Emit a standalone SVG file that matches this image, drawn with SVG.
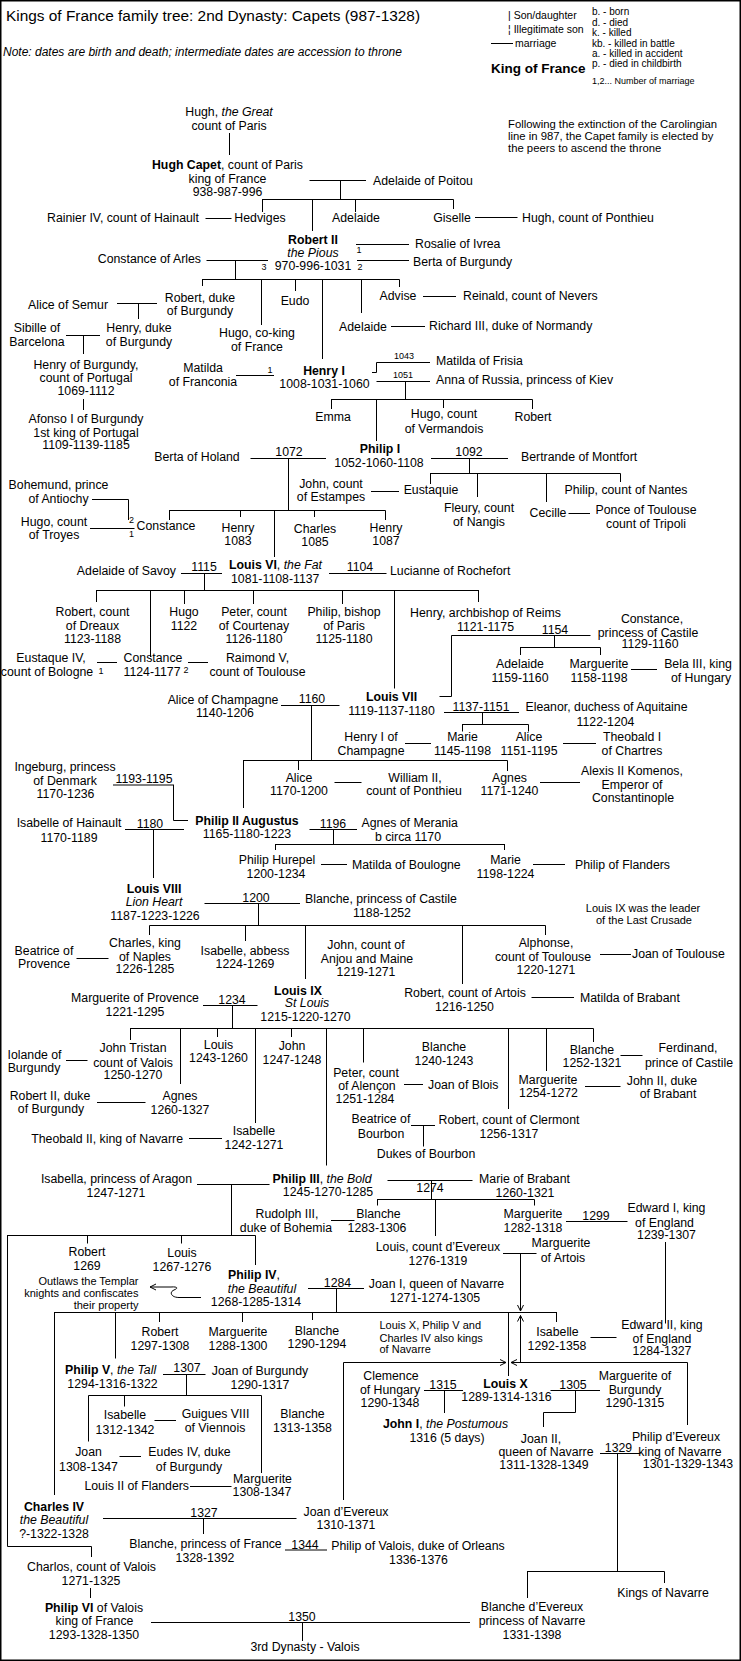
<svg xmlns="http://www.w3.org/2000/svg" width="741" height="1661" viewBox="0 0 741 1661">
<style>
text{font-family:"Liberation Sans",Arial,sans-serif;font-size:12.3px;fill:#000;text-anchor:middle}
.l{text-anchor:start}
.e{text-anchor:end}
.s{font-size:11px}
.x{font-size:9px}
.b{font-weight:bold}
.i{font-style:italic}
.c path{stroke:#000;stroke-width:1;fill:none}
</style>
<defs>
<marker id="ah" markerWidth="8" markerHeight="8" refX="7" refY="4" orient="auto" markerUnits="userSpaceOnUse"><path d="M1,1 L7,4 L1,7" fill="none" stroke="#000" stroke-width="1"/></marker>
</defs>
<rect x="0" y="0" width="741" height="1661" fill="#fff"/>
<rect x="0.75" y="0.75" width="739.5" height="1659.5" fill="none" stroke="#000" stroke-width="1.5"/>

<g id="header">
<text class="l" x="6" y="21" style="font-size:15.4px">Kings of France family tree: 2nd Dynasty: Capets (987-1328)</text>
<text class="l i" x="3" y="56" style="font-size:12px">Note: dates are birth and death; intermediate dates are accession to throne</text>
</g>
<g id="legend">
<text class="l" x="508" y="19" style="font-size:10.5px">| Son/daughter</text>
<text class="l" x="508" y="33" style="font-size:10.5px">¦ Illegitimate son</text>
<path d="M491,43.5H513" stroke="#000" stroke-width="1"/>
<text class="l" x="515" y="47" style="font-size:10.5px">marriage</text>
<text class="l b" x="491" y="73" style="font-size:13.5px">King of France</text>
<text class="l" x="592" y="15" style="font-size:10px">b. - born</text>
<text class="l" x="592" y="26" style="font-size:10px">d. - died</text>
<text class="l" x="592" y="36" style="font-size:10px">k. - killed</text>
<text class="l" x="592" y="47" style="font-size:10px">kb. - killed in battle</text>
<text class="l" x="592" y="57" style="font-size:10px">a. - killed in accident</text>
<text class="l" x="592" y="67" style="font-size:10px">p. - died in childbirth</text>
<text class="l" x="592" y="84" style="font-size:9px">1,2... Number of marriage</text>
</g>
<g id="note-election">
<text class="l" x="508" y="128" style="font-size:11.3px">Following the extinction of the Carolingian</text>
<text class="l" x="508" y="140" style="font-size:11.3px">line in 987, the Capet family is elected by</text>
<text class="l" x="508" y="152" style="font-size:11.3px">the peers to ascend the throne</text>
</g>

<g class="c" id="connectors">
<path d="M229.5,133V155 M309.5,180.5H366 M340.5,180.5V199.5 M262,199.5H453.5 M262.5,199.5V212 M312.5,199.5V231 M355.5,199.5V212 M453.5,199.5V209 M205.5,218.5H231.5 M475,217.5H517.5"/>
<path d="M356,244.5H409 M357,260.5H409 M206.5,260.5H268 M235.5,260.5V279.5 M202,279.5H399.5 M202.5,279.5V286 M261.5,279.5V325 M295.5,279.5V291 M322.5,279.5V359 M361.5,279.5V313 M399.5,279.5V287 M423,296.5H456 M391,326.5H425 M117,303.5H157 M138.5,303.5V319 M66,335.5H100 M83.5,335.5V354 M83.5,399V410 M236,375.5H274"/>
<path d="M372,372.5H376.5V362.5H430 M376.5,381.5H430 M405.5,381.5V399.5 M331,399.5H532.5 M331.5,399.5V409 M376.5,399.5V441 M443.5,399.5V408 M532.5,399.5V409"/>
<path d="M250.5,458.5H326 M288.5,458.5V510.5 M431,458.5H508 M469.5,458.5V473.5 M430,473.5H620.5 M430.5,473.5V484 M477.5,473.5V497 M546.5,473.5V502 M620.5,473.5V482 M371,491.5H399 M568.5,513.5H590 M92,499.5H128.5V520 M90,528.5H134.5 M169,510.5H385.5 M169.5,510.5V520 M240.5,510.5V517 M274.5,510.5V557 M314.5,510.5V517 M385.5,510.5V520"/>
<path d="M181,573.5H222 M329,573.5H386.5 M204.5,573.5V590.5 M96,590.5H479 M96.5,590.5V602 M150.5,590.5V657 M184.5,590.5V604 M253.5,590.5V604 M342.5,590.5V604 M394.5,590.5V688.5 M478.5,590.5V602 M97,662.5H117 M188,662.5H208"/>
<path d="M590.5,635.5H451.5V696.5H439.5 M554.5,635.5V647.5 M520,647.5H600.5 M520.5,647.5V655 M600.5,647.5V655 M631,669.5H657"/>
<path d="M281,705.5H339.5 M311.5,705.5V760.5 M444,712.5H519 M482.5,712.5V724.5 M462,724.5H528.5 M462.5,724.5V731.5 M528.5,724.5V731.5 M405,743.5H431 M563,743.5H596 M243,760.5H507.5 M243.5,760.5V808 M298.5,760.5V770 M507.5,760.5V771 M334.5,782.5H361.5 M540,782.5H580"/>
<path d="M113,785H174 M173.5,785V820.5H188 M125,829.5H184 M153.5,829.5V878 M309.5,829.5H357 M333.5,829.5V844.5 M275,844.5H505 M275.5,844.5V850 M504.5,844.5V850 M321,864.5H347 M533,864.5H565"/>
<path d="M204.5,903.5H300 M258.5,903.5V925.5 M149.5,925.5H545.5 M149.5,925.5V935 M245.5,925.5V941 M305.5,925.5V979 M462.5,925.5V984 M545.5,925.5V935 M76.5,958.5H108.5 M600,954.5H631"/>
<path d="M203,1005.5H257.5 M232.5,1005.5V1028.5 M531.5,997.5H574 M130,1028.5H593.5 M130.5,1028.5V1040 M180.5,1028.5V1084 M217.5,1028.5V1037 M255.5,1028.5V1123 M291.5,1028.5V1037 M326.5,1028.5V1165.5 M363.5,1028.5V1062.5 M508.5,1028.5V1109 M546.5,1028.5V1071 M593.5,1028.5V1042 M66,1060.5H87.5 M620.5,1055.5H642.5 M404,1084.5H423 M585,1086.5H620.5 M97,1102.5H145.5 M411,1125.5H435 M423.5,1125.5V1146.5 M189,1138.5H222"/>
<path d="M197,1184.5H269.5 M231.5,1184.5V1235.5 M7,1235.5H255.5 M7.5,1235.5V1546.5H91.5V1557 M87.5,1235.5V1243.5 M181.5,1235.5V1243.5 M255.5,1235.5V1265 M387.5,1180.5H472.5 M431.5,1180.5V1199.5 M377,1199.5H534.5 M377.5,1199.5V1205.5 M435.5,1199.5V1236 M534.5,1199.5V1205.5 M331,1220.5H354.5 M566,1221.5H627.5 M665.5,1242V1323.5"/>
<path d="M503,1253.5H536.5"/>
<path d="M520.5,1253.5V1311" marker-end="url(#ah)"/>
<path d="M520.5,1362.5V1315.5" marker-end="url(#ah)"/>
<path d="M308,1288.5H364 M336.5,1288.5V1312.5 M54,1312.5H557 M54.5,1312.5V1495 M115.5,1312.5V1358.5 M159.5,1312.5V1322 M242.5,1312.5V1322 M312.5,1312.5V1320 M508.5,1312.5V1376 M556.5,1312.5V1322 M590.5,1337.5H616.5"/>
<path d="M343.5,1500V1362.5H506" marker-end="url(#ah)"/>
<path d="M687.5,1425V1362.5H511" marker-end="url(#ah)"/>
<path d="M201,1297.5H179C171,1297.5 169,1292 174,1290C179,1288 177,1286.5 171,1287H150" marker-end="url(#ah)"/>
<path d="M163,1374.5H205.5 M186.5,1374.5V1395.5 M88.5,1395.5H261.5 M88.5,1395.5V1441.5 M124.5,1395.5V1406.5 M261.5,1395.5V1473 M154.5,1420.5H176 M119.5,1456.5H141 M190,1486.5H231.5"/>
<path d="M424,1390.5H463 M444.5,1390.5V1413 M550.5,1390.5H600 M575.5,1390.5V1412.5H543.5V1427 M600,1453.5H640.5 M617.5,1453.5V1571.5 M527,1571.5H664.5 M527.5,1571.5V1598 M664.5,1571.5V1583"/>
<path d="M103,1518.5H296.5 M203.5,1518.5V1534 M285,1550H327 M90.5,1588V1598 M151,1622.5H470 M302.5,1622.5V1641"/>
</g>

<g id="hugh-great"><text x="229" y="116">Hugh, <tspan class="i">the Great</tspan></text><text x="229" y="130">count of Paris</text></g>
<g id="hugh-capet"><text x="227.5" y="169"><tspan class="b">Hugh Capet</tspan>, count of Paris</text><text x="227.5" y="183">king of France</text><text x="227.5" y="196">938-987-996</text></g>
<g id="adelaide-poitou"><text class="l" x="373" y="185">Adelaide of Poitou</text></g>
<g id="hedviges"><text x="260" y="222">Hedviges</text></g>
<g id="rainier"><text class="e" x="199" y="222">Rainier IV, count of Hainault</text></g>
<g id="adelaide-1"><text x="356" y="222">Adelaide</text></g>
<g id="giselle"><text x="452" y="222">Giselle</text></g>
<g id="hugh-ponthieu"><text class="l" x="522" y="222">Hugh, count of Ponthieu</text></g>
<g id="robert2"><text class="b" x="313" y="244">Robert II</text><text class="i" x="313" y="257">the Pious</text><text x="313" y="270">970-996-1031</text><text class="x" x="264" y="270">3</text><text class="x" x="359" y="253">1</text><text class="x" x="360" y="270">2</text></g>
<g id="rosalie"><text class="l" x="415" y="248">Rosalie of Ivrea</text></g>
<g id="berta-burgundy"><text class="l" x="413" y="266">Berta of Burgundy</text></g>
<g id="constance-arles"><text class="e" x="201" y="263">Constance of Arles</text></g>
<g id="robert-duke"><text x="200" y="302">Robert, duke</text><text x="200" y="315">of Burgundy</text></g>
<g id="alice-semur"><text x="68" y="308.5">Alice of Semur</text></g>
<g id="eudo"><text x="295" y="305">Eudo</text></g>
<g id="advise"><text x="398" y="300">Advise</text></g>
<g id="reinald"><text class="l" x="463" y="300">Reinald, count of Nevers</text></g>
<g id="adelaide-2"><text x="363" y="330.5">Adelaide</text></g>
<g id="richard3"><text class="l" x="429" y="330">Richard III, duke of Normandy</text></g>
<g id="sibille"><text x="37" y="332">Sibille of</text><text x="37" y="345.5">Barcelona</text></g>
<g id="henry-duke"><text x="139" y="332">Henry, duke</text><text x="139" y="345.5">of Burgundy</text></g>
<g id="hugo-coking"><text x="257" y="337">Hugo, co-king</text><text x="257" y="350.5">of France</text></g>
<g id="henry-burgundy"><text x="86" y="368.5">Henry of Burgundy,</text><text x="86" y="381.5">count of Portugal</text><text x="86" y="394.5">1069-1112</text></g>
<g id="matilda-franconia"><text x="203" y="372">Matilda</text><text x="203" y="386">of Franconia</text><text class="x" x="270" y="373">1</text></g>
<g id="henry1"><text class="b" x="324" y="374.5">Henry I</text><text x="324.5" y="387.5">1008-1031-1060</text></g>
<g id="matilda-frisia"><text class="x" x="404" y="359">1043</text><text class="l" x="436" y="364.5">Matilda of Frisia</text></g>
<g id="anna"><text class="x" x="403" y="378">1051</text><text class="l" x="436" y="383.5">Anna of Russia, princess of Kiev</text></g>
<g id="emma"><text x="333" y="421">Emma</text></g>
<g id="hugo-vermandois"><text x="444" y="418">Hugo, count</text><text x="444" y="433">of Vermandois</text></g>
<g id="robert-3"><text x="533" y="421">Robert</text></g>
<g id="afonso"><text x="86" y="423">Afonso I of Burgundy</text><text x="86" y="436.5">1st king of Portugal</text><text x="86" y="449">1109-1139-1185</text></g>
<g id="philip1"><text class="b" x="380" y="452.5">Philip I</text><text x="379" y="467">1052-1060-1108</text></g>
<g id="berta-holand"><text x="197" y="461">Berta of Holand</text><text x="289" y="456">1072</text></g>
<g id="bertrande"><text x="469" y="456">1092</text><text class="l" x="521" y="461">Bertrande of Montfort</text></g>
<g id="eustaquie"><text x="431" y="494">Eustaquie</text></g>
<g id="john-estampes"><text x="331" y="488">John, count</text><text x="331" y="501">of Estampes</text></g>
<g id="philip-nantes"><text x="626" y="494">Philip, count of Nantes</text></g>
<g id="fleury"><text x="479" y="511.5">Fleury, count</text><text x="479" y="525.5">of Nangis</text></g>
<g id="cecille"><text x="548" y="517">Cecille</text></g>
<g id="ponce"><text x="646" y="514">Ponce of Toulouse</text><text x="646" y="527.5">count of Tripoli</text></g>
<g id="bohemund"><text x="58.5" y="489">Bohemund, prince</text><text x="58.5" y="502.5">of Antiochy</text><text class="x l" x="129" y="523">2</text></g>
<g id="hugo-troyes"><text x="54" y="525.5">Hugo, count</text><text x="54" y="539">of Troyes</text><text class="x l" x="129" y="537">1</text></g>
<g id="constance-1"><text x="166" y="529.5">Constance</text></g>
<g id="henry-1083"><text x="238" y="531.5">Henry</text><text x="238" y="545">1083</text></g>
<g id="charles-1085"><text x="315" y="532.5">Charles</text><text x="315" y="546">1085</text></g>
<g id="henry-1087"><text x="386" y="531.5">Henry</text><text x="386" y="545">1087</text></g>
<g id="louis6"><text class="l" x="229" y="569"><tspan class="b">Louis VI</tspan>, <tspan class="i">the Fat</tspan></text><text class="l" x="231" y="583">1081-1108-1137</text></g>
<g id="adelaide-savoy"><text class="e" x="176" y="574.5">Adelaide of Savoy</text><text x="204" y="571">1115</text></g>
<g id="lucianne"><text x="360" y="571">1104</text><text class="l" x="390" y="574.5">Lucianne of Rochefort</text></g>
<g id="robert-dreux"><text x="92.5" y="616">Robert, count</text><text x="92.5" y="629.5">of Dreaux</text><text x="92.5" y="643">1123-1188</text></g>
<g id="hugo-1122"><text x="184" y="616">Hugo</text><text x="184" y="629.5">1122</text></g>
<g id="peter-courtenay"><text x="254" y="616">Peter, count</text><text x="254" y="629.5">of Courtenay</text><text x="254" y="643">1126-1180</text></g>
<g id="philip-bishop"><text x="344" y="616">Philip, bishop</text><text x="344" y="629.5">of Paris</text><text x="344" y="643">1125-1180</text></g>
<g id="henry-archbishop"><text x="485.5" y="617">Henry, archbishop of Reims</text><text x="485.5" y="630.5">1121-1175</text></g>
<g id="constance-castile"><text x="555" y="634">1154</text><text x="652" y="623">Constance,</text><text x="648" y="636.5">princess of Castile</text><text x="650" y="648">1129-1160</text></g>
<g id="adelaide-1159"><text x="520" y="668">Adelaide</text><text x="520" y="681.5">1159-1160</text></g>
<g id="marguerite-1158"><text x="599" y="668">Marguerite</text><text x="599" y="681.5">1158-1198</text></g>
<g id="bela3"><text x="698" y="668">Bela III, king</text><text x="701" y="681.5">of Hungary</text></g>
<g id="eustaque4"><text x="51" y="662">Eustaque IV,</text><text x="47" y="675.5">count of Bologne</text><text class="x" x="101" y="674">1</text></g>
<g id="constance-1124"><text x="153" y="662">Constance</text><text x="152" y="675.5">1124-1177</text><text class="x" x="186" y="673">2</text></g>
<g id="raimond5"><text x="257.5" y="662">Raimond V,</text><text x="257.5" y="675.5">count of Toulouse</text></g>
<g id="louis7"><text class="b" x="391.5" y="700.5">Louis VII</text><text x="391.5" y="715">1119-1137-1180</text></g>
<g id="alice-champagne"><text x="223" y="703.5">Alice of Champagne</text><text x="225" y="717">1140-1206</text><text x="312" y="703">1160</text></g>
<g id="eleanor"><text x="481" y="710.5">1137-1151</text><text class="l" x="525.5" y="711">Eleanor, duchess of Aquitaine</text><text x="605.5" y="726">1122-1204</text></g>
<g id="henry1-champagne"><text x="371" y="741">Henry I of</text><text x="371" y="755">Champagne</text></g>
<g id="marie-1145"><text x="462.5" y="741">Marie</text><text x="462.5" y="755">1145-1198</text></g>
<g id="alice-1151"><text x="529" y="741">Alice</text><text x="529" y="755">1151-1195</text></g>
<g id="theobald1"><text x="632" y="741">Theobald I</text><text x="632" y="755">of Chartres</text></g>
<g id="alice-1170"><text x="299" y="781.5">Alice</text><text x="299" y="795">1170-1200</text></g>
<g id="william2"><text x="415" y="781.5">William II,</text><text x="414" y="795">count of Ponthieu</text></g>
<g id="agnes-1171"><text x="509.5" y="781.5">Agnes</text><text x="509.5" y="795">1171-1240</text></g>
<g id="alexis2"><text x="632" y="775">Alexis II Komenos,</text><text x="632" y="788.5">Emperor of</text><text x="633" y="801.5">Constantinople</text></g>
<g id="ingeburg"><text x="65" y="771">Ingeburg, princess</text><text x="65" y="784.5">of Denmark</text><text x="65.5" y="797.5">1170-1236</text><text x="144" y="783">1193-1195</text></g>
<g id="philip2"><text class="b" x="247" y="824.5">Philip II Augustus</text><text x="247" y="838">1165-1180-1223</text></g>
<g id="isabelle-hainault"><text x="69" y="827">Isabelle of Hainault</text><text x="69" y="841.5">1170-1189</text><text x="150" y="828">1180</text></g>
<g id="agnes-merania"><text x="333" y="828">1196</text><text class="l" x="361.5" y="827">Agnes of Merania</text><text x="408" y="840.5">b circa 1170</text></g>
<g id="philip-hurepel"><text x="277" y="864">Philip Hurepel</text><text x="276" y="877.5">1200-1234</text></g>
<g id="matilda-boulogne"><text class="l" x="352" y="869">Matilda of Boulogne</text></g>
<g id="marie-1198"><text x="505.5" y="864">Marie</text><text x="505.5" y="877.5">1198-1224</text></g>
<g id="philip-flanders"><text class="l" x="575" y="869">Philip of Flanders</text></g>
<g id="louis8"><text class="b" x="154" y="892.5">Louis VIII</text><text class="i" x="154" y="906">Lion Heart</text><text x="155" y="919.5">1187-1223-1226</text></g>
<g id="blanche-castile"><text x="256" y="902">1200</text><text class="l" x="305" y="903">Blanche, princess of Castile</text><text x="382" y="917">1188-1252</text></g>
<g id="note-crusade"><text class="s" x="643" y="912">Louis IX was the leader</text><text class="s" x="644" y="923.5">of the Last Crusade</text></g>
<g id="beatrice-provence"><text x="44" y="955">Beatrice of</text><text x="44" y="968">Provence</text></g>
<g id="charles-naples"><text x="145" y="947">Charles, king</text><text x="145" y="960.5">of Naples</text><text x="145" y="973">1226-1285</text></g>
<g id="isabelle-abbess"><text x="245" y="955">Isabelle, abbess</text><text x="245" y="968">1224-1269</text></g>
<g id="john-anjou"><text x="366" y="949">John, count of</text><text x="367" y="962.5">Anjou and Maine</text><text x="366" y="975.5">1219-1271</text></g>
<g id="alphonse"><text x="546" y="947">Alphonse,</text><text x="543" y="960.5">count of Toulouse</text><text x="546" y="973.5">1220-1271</text></g>
<g id="joan-toulouse"><text class="l" x="632" y="957.5">Joan of Toulouse</text></g>
<g id="louis9"><text class="b" x="298" y="994.5">Louis IX</text><text class="i" x="307" y="1007">St Louis</text><text x="305.5" y="1020.5">1215-1220-1270</text></g>
<g id="marguerite-provence"><text x="135" y="1002">Marguerite of Provence</text><text x="135" y="1015.5">1221-1295</text><text x="232" y="1004">1234</text></g>
<g id="robert-artois"><text x="465" y="997">Robert, count of Artois</text><text x="464.5" y="1011">1216-1250</text></g>
<g id="matilda-brabant"><text class="l" x="580" y="1002">Matilda of Brabant</text></g>
<g id="iolande"><text x="34.5" y="1058.5">Iolande of</text><text x="34" y="1072">Burgundy</text></g>
<g id="john-tristan"><text x="133" y="1052">John Tristan</text><text x="133" y="1066.5">count of Valois</text><text x="133" y="1078.5">1250-1270</text></g>
<g id="louis-1243"><text x="218.5" y="1048.5">Louis</text><text x="218.5" y="1062">1243-1260</text></g>
<g id="john-1247"><text x="292" y="1049.5">John</text><text x="292" y="1063.5">1247-1248</text></g>
<g id="blanche-1240"><text x="444" y="1050.5">Blanche</text><text x="444" y="1064.5">1240-1243</text></g>
<g id="blanche-1252"><text x="592" y="1053.5">Blanche</text><text x="592" y="1067">1252-1321</text></g>
<g id="ferdinand"><text x="688" y="1052">Ferdinand,</text><text x="689" y="1066.5">prince of Castile</text></g>
<g id="peter-alencon"><text x="366" y="1077">Peter, count</text><text x="367" y="1089.5">of Alençon</text><text x="365" y="1103">1251-1284</text></g>
<g id="joan-blois"><text class="l" x="428" y="1089">Joan of Blois</text></g>
<g id="marguerite-1254"><text x="548" y="1083.5">Marguerite</text><text x="548.5" y="1097">1254-1272</text></g>
<g id="john2-brabant"><text x="662" y="1085">John II, duke</text><text x="668" y="1098">of Brabant</text></g>
<g id="robert2-burgundy"><text x="50" y="1099.5">Robert II, duke</text><text x="51" y="1113">of Burgundy</text></g>
<g id="agnes-1260"><text x="180" y="1100">Agnes</text><text x="180" y="1114">1260-1327</text></g>
<g id="beatrice-bourbon"><text x="381" y="1123">Beatrice of</text><text x="381" y="1137.5">Bourbon</text></g>
<g id="robert-clermont"><text x="509" y="1124">Robert, count of Clermont</text><text x="509" y="1138">1256-1317</text></g>
<g id="dukes-bourbon"><text x="426" y="1158">Dukes of Bourbon</text></g>
<g id="isabelle-1242"><text x="254" y="1135">Isabelle</text><text x="254" y="1149">1242-1271</text></g>
<g id="theobald2"><text class="e" x="183" y="1143">Theobald II, king of Navarre</text></g>
<g id="philip3"><text class="l" x="272.5" y="1182.5"><tspan class="b">Philip III</tspan>, <tspan class="i">the Bold</tspan></text><text x="328" y="1195.5">1245-1270-1285</text></g>
<g id="isabella-aragon"><text x="116.5" y="1183">Isabella, princess of Aragon</text><text x="116" y="1196.5">1247-1271</text></g>
<g id="marie-brabant"><text x="430" y="1192">1274</text><text x="524.5" y="1182.5">Marie of Brabant</text><text x="525" y="1196.5">1260-1321</text></g>
<g id="rudolph3"><text x="287" y="1217.5">Rudolph III,</text><text x="286" y="1231.5">duke of Bohemia</text></g>
<g id="blanche-1283"><text x="378.5" y="1218">Blanche</text><text x="377" y="1232">1283-1306</text></g>
<g id="marguerite-1282"><text x="533" y="1217.5">Marguerite</text><text x="533" y="1231.5">1282-1318</text><text x="596" y="1220">1299</text></g>
<g id="edward1"><text x="666.5" y="1212">Edward I, king</text><text x="664.5" y="1226.5">of England</text><text x="666.5" y="1239">1239-1307</text></g>
<g id="louis-evereux"><text x="438" y="1251">Louis, count d’Evereux</text><text x="438" y="1264.5">1276-1319</text></g>
<g id="marguerite-artois"><text x="561" y="1247">Marguerite</text><text x="563" y="1262">of Artois</text></g>
<g id="robert-1269"><text x="87" y="1256">Robert</text><text x="87" y="1270">1269</text></g>
<g id="louis-1267"><text x="182" y="1257">Louis</text><text x="182" y="1271">1267-1276</text></g>
<g id="philip4"><text x="254" y="1279"><tspan class="b">Philip IV</tspan>,</text><text class="i" x="262" y="1292.5">the Beautiful</text><text x="256" y="1305.5">1268-1285-1314</text></g>
<g id="note-templar"><text class="s e" x="138.5" y="1285">Outlaws the Templar</text><text class="s e" x="138.5" y="1297">knights and confiscates</text><text class="s e" x="138.5" y="1308.5">their property</text></g>
<g id="joan1-navarre"><text x="337.5" y="1286.5">1284</text><text x="436.5" y="1288">Joan I, queen of Navarre</text><text x="435" y="1301.5">1271-1274-1305</text></g>
<g id="robert-1297"><text x="160" y="1335.5">Robert</text><text x="160" y="1349.5">1297-1308</text></g>
<g id="marguerite-1288"><text x="238" y="1335.5">Marguerite</text><text x="238" y="1349.5">1288-1300</text></g>
<g id="blanche-1290"><text x="317" y="1334.5">Blanche</text><text x="317" y="1348">1290-1294</text></g>
<g id="note-navarre"><text class="s l" x="379.5" y="1328.5">Louis X, Philip V and</text><text class="s l" x="379.5" y="1341.5">Charles IV also kings</text><text class="s l" x="379.5" y="1353">of Navarre</text></g>
<g id="isabelle-1292"><text x="557.5" y="1335.5">Isabelle</text><text x="557" y="1349.5">1292-1358</text></g>
<g id="edward2"><text x="662" y="1329">Edward II, king</text><text x="662" y="1342.5">of England</text><text x="662" y="1354.5">1284-1327</text></g>
<g id="philip5"><text class="l" x="65" y="1373.5"><tspan class="b">Philip V</tspan>, <tspan class="i">the Tall</tspan></text><text x="112.5" y="1388">1294-1316-1322</text><text x="187" y="1372">1307</text></g>
<g id="joan-burgundy"><text x="260" y="1374.5">Joan of Burgundy</text><text x="260" y="1389">1290-1317</text></g>
<g id="clemence"><text x="391" y="1379.5">Clemence</text><text x="390" y="1394">of Hungary</text><text x="390" y="1407">1290-1348</text><text x="443" y="1389">1315</text></g>
<g id="louis10"><text class="b" x="505.5" y="1387.5">Louis X</text><text x="506.5" y="1401">1289-1314-1316</text></g>
<g id="marguerite-burgundy"><text x="573" y="1389">1305</text><text x="635" y="1380">Marguerite of</text><text x="635" y="1394">Burgundy</text><text x="635" y="1407">1290-1315</text></g>
<g id="john1"><text x="445.5" y="1427.5"><tspan class="b">John I</tspan>, <tspan class="i">the Postumous</tspan></text><text x="447" y="1441.5">1316 (5 days)</text></g>
<g id="joan2"><text x="541" y="1442.5">Joan II,</text><text x="546" y="1456">queen of Navarre</text><text x="544" y="1469">1311-1328-1349</text><text x="618.5" y="1452">1329</text></g>
<g id="philip-devereux"><text x="676" y="1441">Philip d’Evereux</text><text x="680" y="1456">king of Navarre</text><text x="688" y="1468">1301-1329-1343</text></g>
<g id="isabelle-1312"><text x="125" y="1419">Isabelle</text><text x="125" y="1433.5">1312-1342</text></g>
<g id="guigues8"><text x="215.5" y="1417.5">Guigues VIII</text><text x="215" y="1431.5">of Viennois</text></g>
<g id="blanche-1313"><text x="302.5" y="1417.5">Blanche</text><text x="302.5" y="1431.5">1313-1358</text></g>
<g id="joan-1308"><text x="88.5" y="1456">Joan</text><text x="88.5" y="1470.5">1308-1347</text></g>
<g id="eudes4"><text x="189.5" y="1456">Eudes IV, duke</text><text x="189" y="1470.5">of Burgundy</text></g>
<g id="louis2-flanders"><text class="e" x="189" y="1490">Louis II of Flanders</text></g>
<g id="marguerite-1308"><text x="262.5" y="1482.5">Marguerite</text><text x="262" y="1496">1308-1347</text></g>
<g id="charles4"><text class="b" x="54" y="1511">Charles IV</text><text class="i" x="54" y="1524">the Beautiful</text><text x="54" y="1537.5">?-1322-1328</text></g>
<g id="joan-devereux"><text x="204" y="1517">1327</text><text x="346" y="1516">Joan d’Evereux</text><text x="346" y="1529">1310-1371</text></g>
<g id="blanche-france"><text x="205.5" y="1548">Blanche, princess of France</text><text x="205" y="1561.5">1328-1392</text><text x="305" y="1549">1344</text></g>
<g id="philip-orleans"><text x="418" y="1549.5">Philip of Valois, duke of Orleans</text><text x="418.5" y="1564">1336-1376</text></g>
<g id="charles-valois"><text x="91.5" y="1570.5">Charlos, count of Valois</text><text x="91" y="1585">1271-1325</text></g>
<g id="philip6"><text x="94" y="1611.5"><tspan class="b">Philip VI</tspan> of Valois</text><text x="94.5" y="1625">king of France</text><text x="94" y="1639">1293-1328-1350</text></g>
<g id="valois"><text x="302" y="1621">1350</text><text x="305" y="1650.5">3rd Dynasty - Valois</text></g>
<g id="blanche-devereux"><text x="532" y="1610.5">Blanche d’Evereux</text><text x="532" y="1625">princess of Navarre</text><text x="532" y="1639">1331-1398</text></g>
<g id="kings-navarre"><text x="663" y="1597">Kings of Navarre</text></g>
</svg>
